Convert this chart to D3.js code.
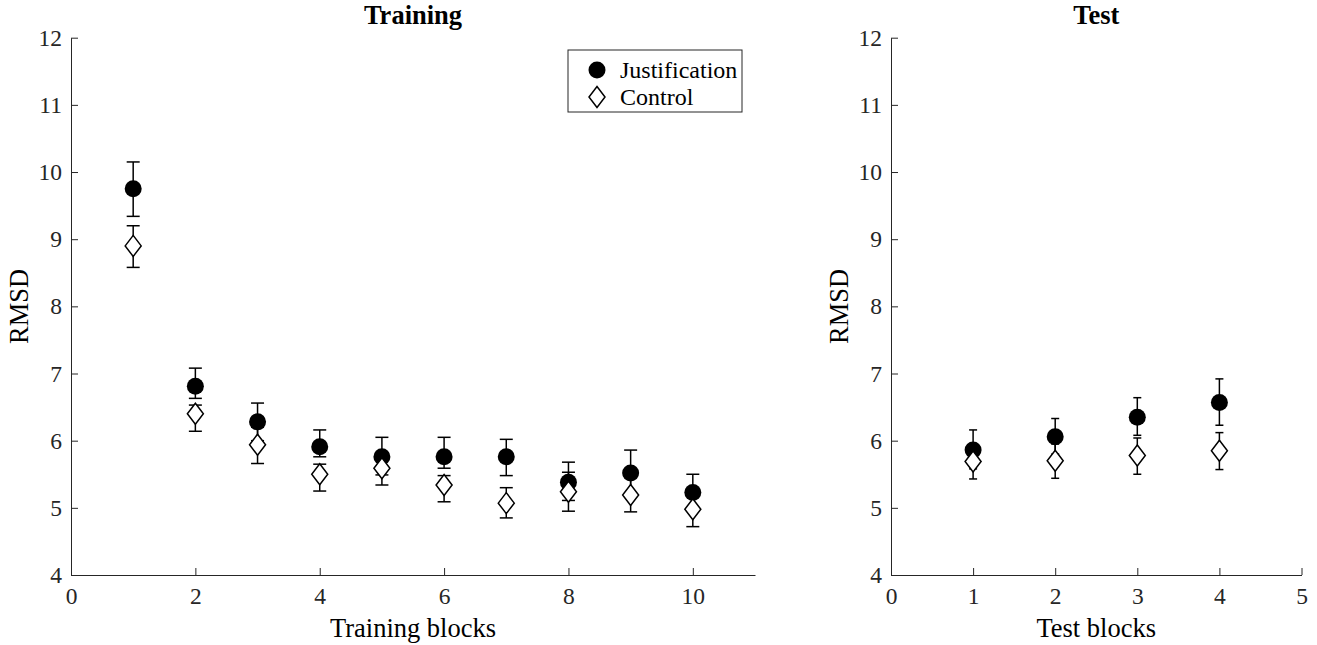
<!DOCTYPE html>
<html>
<head>
<meta charset="utf-8">
<script src="https://cdn.jsdelivr.net/npm/d3@7"></script>
<style>
  body { margin: 0; background: #fff; }
  svg text { font-family: "Liberation Serif", "Times New Roman", serif; fill: #000; }
  .axis path, .axis line { stroke: #262626; stroke-width: 1; }
  .axis text { font-size: 23.5px; fill: #262626; }
</style>
</head>
<body>
<svg id="chart" width="1317" height="645"></svg>
<script>
// RMSD per block, justification vs control, mean with upper/lower error bar ends
const trainBlocks = [1, 2, 3, 4, 5, 6, 7, 8, 9, 10];
const trainJustMean = [9.75, 6.81, 6.28, 5.91, 5.76, 5.76, 5.76, 5.38, 5.52, 5.23];
const trainJustLo = [9.34, 6.63, 6.00, 5.76, 5.49, 5.59, 5.48, 5.11, 5.20, 4.97];
const trainJustHi = [10.15, 7.08, 6.56, 6.16, 6.05, 6.05, 6.02, 5.68, 5.86, 5.50];
const trainCtrlMean = [8.90, 6.40, 5.94, 5.50, 5.59, 5.34, 5.07, 5.24, 5.19, 4.98];
const trainCtrlLo = [8.58, 6.14, 5.66, 5.25, 5.34, 5.09, 4.85, 4.95, 4.94, 4.72];
const trainCtrlHi = [9.20, 6.53, 6.20, 5.65, 5.82, 5.48, 5.30, 5.53, 5.45, 5.24];

const testBlocks = [1, 2, 3, 4];
const testJustMean = [5.86, 6.06, 6.35, 6.57];
const testJustLo = [5.58, 5.80, 6.08, 6.23];
const testJustHi = [6.16, 6.33, 6.64, 6.92];
const testCtrlMean = [5.69, 5.70, 5.78, 5.85];
const testCtrlLo = [5.43, 5.44, 5.50, 5.57];
const testCtrlHi = [5.93, 5.95, 6.04, 6.12];

const yTicks = [4, 5, 6, 7, 8, 9, 10, 11, 12];
const trainXTicks = [0, 2, 4, 6, 8, 10];
const testXTicks = [0, 1, 2, 3, 4, 5];

const SERIES_LABELS = ['Justification', 'Control'];

const svg = d3.select('#chart');

function rows(blocks, mean, lo, hi) {
  return blocks.map((b, i) => ({ b, m: mean[i], lo: lo[i], hi: hi[i] }));
}

// one panel: left + bottom axes only, inward ticks (MATLAB box off style)
function panel({ x0, x1, xDomain, xTicks, title, xLabel, capHalf, just, ctrl }) {
  const x = d3.scaleLinear().domain(xDomain).range([x0, x1]);
  const y = d3.scaleLinear().domain([4, 12]).range([575, 37.7]);
  const g = svg.append('g');

  g.append('g')
    .attr('class', 'axis')
    .attr('transform', `translate(${x0},0)`)
    .call(d3.axisLeft(y).tickValues(yTicks).tickSizeInner(-7).tickSizeOuter(0).tickPadding(9).tickFormat(d3.format('d')));

  g.append('g')
    .attr('class', 'axis')
    .attr('transform', 'translate(0,575)')
    .call(d3.axisBottom(x).tickValues(xTicks).tickSizeInner(-7).tickSizeOuter(0).tickPadding(12).tickFormat(d3.format('d')));

  g.append('text')
    .attr('x', (x0 + x1) / 2)
    .attr('y', 24)
    .attr('text-anchor', 'middle')
    .attr('font-weight', 'bold')
    .attr('font-size', 26.5)
    .text(title);

  g.append('text')
    .attr('x', (x0 + x1) / 2)
    .attr('y', 637)
    .attr('text-anchor', 'middle')
    .attr('font-size', 26.5)
    .attr('fill', '#262626')
    .text(xLabel);

  g.append('text')
    .attr('transform', `translate(${x0 - 43},${y(8)}) rotate(-90)`)
    .attr('text-anchor', 'middle')
    .attr('font-size', 26.5)
    .attr('fill', '#262626')
    .text('RMSD');

  [just, ctrl].forEach((data, si) => {
    const eb = g.append('g').attr('stroke', '#000').attr('stroke-width', 1.5);
    data.forEach((d) => {
      const cx = x(d.b);
      eb.append('line').attr('x1', cx).attr('x2', cx).attr('y1', y(d.lo)).attr('y2', y(d.hi));
      eb.append('line').attr('x1', cx - capHalf).attr('x2', cx + capHalf).attr('y1', y(d.lo)).attr('y2', y(d.lo));
      eb.append('line').attr('x1', cx - capHalf).attr('x2', cx + capHalf).attr('y1', y(d.hi)).attr('y2', y(d.hi));
    });
    if (si === 0) {
      g.selectAll(null)
        .data(data)
        .join('circle')
        .attr('cx', (d) => x(d.b))
        .attr('cy', (d) => y(d.m))
        .attr('r', 8.5)
        .attr('fill', '#000');
    } else {
      g.selectAll(null)
        .data(data)
        .join('path')
        .attr('d', (d) => diamond(x(d.b), y(d.m)))
        .attr('fill', '#fff')
        .attr('stroke', '#000')
        .attr('stroke-width', 1.5);
    }
  });
  return g;
}

function diamond(cx, cy) {
  return `M${cx},${cy - 10.5}L${cx + 8},${cy}L${cx},${cy + 10.5}L${cx - 8},${cy}Z`;
}

panel({
  x0: 71, x1: 755, xDomain: [0, 11], xTicks: trainXTicks,
  title: 'Training', xLabel: 'Training blocks', capHalf: 6.5,
  just: rows(trainBlocks, trainJustMean, trainJustLo, trainJustHi),
  ctrl: rows(trainBlocks, trainCtrlMean, trainCtrlLo, trainCtrlHi),
});

panel({
  x0: 891, x1: 1301.5, xDomain: [0, 5], xTicks: testXTicks,
  title: 'Test', xLabel: 'Test blocks', capHalf: 4,
  just: rows(testBlocks, testJustMean, testJustLo, testJustHi),
  ctrl: rows(testBlocks, testCtrlMean, testCtrlLo, testCtrlHi),
});

// legend box, top right of training panel
const lg = svg.append('g').attr('transform', 'translate(568,50)');
lg.append('rect').attr('width', 174).attr('height', 62).attr('fill', '#fff').attr('stroke', '#262626').attr('stroke-width', 1);
lg.append('circle').attr('cx', 29).attr('cy', 20).attr('r', 8.5).attr('fill', '#000');
lg.append('path').attr('d', diamond(29, 47)).attr('fill', '#fff').attr('stroke', '#000').attr('stroke-width', 1.5);
SERIES_LABELS.forEach((label, i) => {
  lg.append('text')
    .attr('x', 52)
    .attr('y', 20 + i * 27)
    .attr('dy', '0.35em')
    .attr('font-size', 24)
    .attr('fill', '#000')
    .text(label);
});
</script>
</body>
</html>
